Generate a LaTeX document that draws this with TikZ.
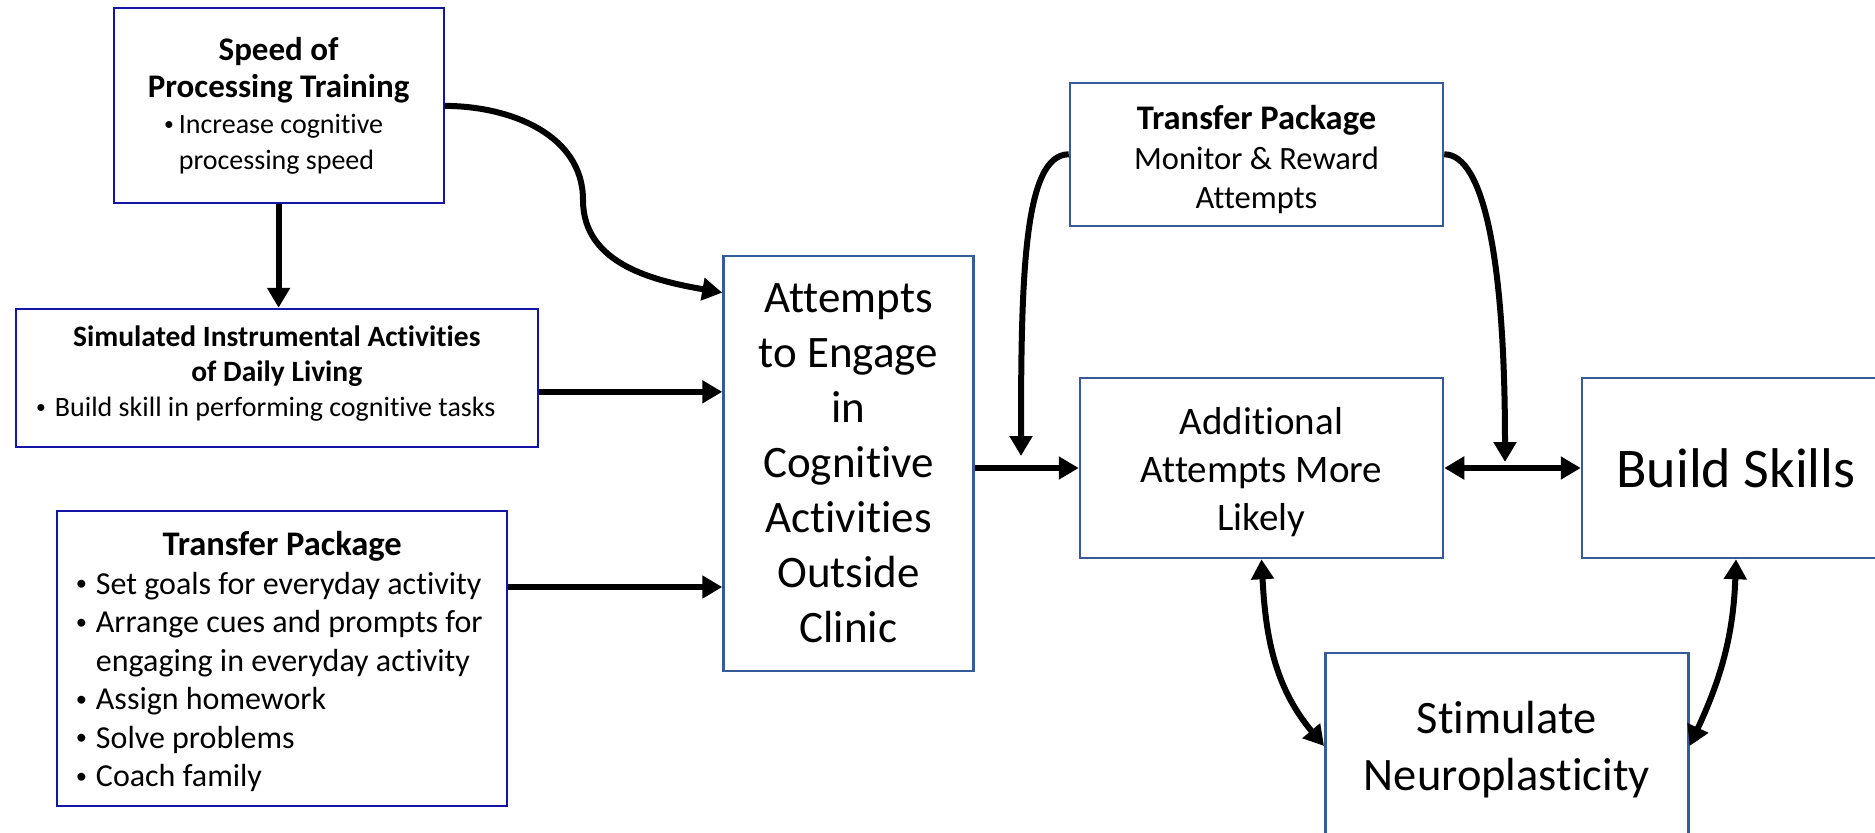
\documentclass[tikz,border=0pt]{standalone}
\usepackage{fontspec}
\setmainfont{Carlito}[Ligatures=NoCommon]
\usetikzlibrary{arrows.meta,calc}

\definecolor{boxnavy}{RGB}{20,20,165}
\definecolor{boxsteel}{RGB}{55,90,155}
\newcommand{\bul}{\raisebox{0.1em}{\scalebox{0.7}{•}}}

\begin{document}
\begin{tikzpicture}[x=1pt, y=1pt,
  lbox/.style={draw=boxnavy, line width=2pt, inner sep=4pt, align=flush center},
  rbox/.style={draw=boxsteel, line width=2.5pt, inner sep=4pt, align=flush center},
  link/.style={line width=6pt, -{Triangle[length=20pt,width=22pt]}},
  twolink/.style={line width=6pt, {Triangle[length=20pt,width=22pt]}-{Triangle[length=20pt,width=22pt]}}]
\path[use as bounding box, fill=white] (0,0) rectangle (1875,-833);

% Left column.
\node[lbox, minimum width=330pt, minimum height=195pt, text width=320pt] (speed) at (278.6,-105.9)
  {{\bfseries\fontsize{33}{36.5}\selectfont \rule{0pt}{29pt}Speed of\\ Processing Training\par}
   \fontsize{28}{36}\selectfont
   \begin{tabular}[t]{@{}l@{\hspace{5pt}}l@{}}
   \bul&Increase cognitive\\
    &processing speed
   \end{tabular}\hspace*{10pt}\par};
\node[lbox, minimum width=522pt, minimum height=138pt, text width=512pt] (sim) at (276.8,-377.8)
  {{\bfseries\fontsize{29.5}{35}\selectfont Simulated Instrumental Activities\\ of Daily Living\par}
   \fontsize{28}{35}\selectfont \bul\hspace{9pt}Build skill in performing cognitive tasks\rule[-14pt]{0pt}{0pt}\hspace*{22pt}\par};
\node[lbox, minimum width=450pt, minimum height=295pt, text width=440pt] (tleft) at (282.2,-658.3)
  {{\bfseries\fontsize{34.5}{39}\selectfont \rule{0pt}{37pt}Transfer Package\par}
   \fontsize{32}{38.5}\selectfont
   \begin{tabular}[t]{@{}l@{\hspace{9pt}}l@{}}
   \bul&Set goals for everyday activity\\
   \bul&Arrange cues and prompts for\\
    &engaging in everyday activity\\
   \bul&Assign homework\\
   \bul&Solve problems\\
   \bul&Coach family
   \end{tabular}\hspace*{6pt}\par};

% Middle and right.
\node[rbox, minimum width=250pt, minimum height=415pt, text width=240pt,
  font=\fontsize{45}{55}\selectfont] (att) at (848.5,-463.4)
  {Attempts\\ to Engage\\ in\\ Cognitive\\ Activities\\ Outside\\ Clinic};
\node[rbox, minimum width=373pt, minimum height=143pt, text width=363pt] (tright) at (1256.5,-154.3)
  {{\bfseries\fontsize{34.5}{39.5}\selectfont \rule{0pt}{35pt}Transfer Package\par}
   \fontsize{32.5}{39.5}\selectfont Monitor \& Reward\\ Attempts\par};
\node[rbox, minimum width=363pt, minimum height=180pt, text width=353pt,
  font=\fontsize{39}{48}\selectfont] (add) at (1261.5,-468)
  {\rule{0pt}{36pt}Additional\\ Attempts More\\ Likely};
\node[rbox, minimum width=308pt, minimum height=180pt, text width=298pt,
  font=\fontsize{56}{66}\selectfont] (skills) at (1736,-468) {Build Skills};
\node[rbox, minimum width=363pt, minimum height=186pt, text width=353pt,
  font=\fontsize{46.5}{57}\selectfont] (stim) at (1506.8,-746)
  {\rule{0pt}{40pt}Stimulate\\ Neuroplasticity};

% Connector points.
\coordinate (bend) at (583,-200);
\coordinate (attin) at ($(att.north west)+(0,-38)$);
\coordinate (simout) at ($(sim.south east)!0.4!(sim.north east)$);
\coordinate (tlout) at ($(tleft.north east)!0.26!(tleft.south east)$);
\coordinate (joinA) at (1021,-456);
\coordinate (joinB) at (1505,-462);

% Draw arrows.
\draw[link] (speed.south) -- (speed.south |- sim.north);
\draw[link] (speed.east) to[out=0,in=90] (bend) to[out=-90,in=170] (attin);
\draw[link] (simout) -- (simout -| att.west);
\draw[link] (tlout) -- (tlout -| att.west);
\draw[link] (att.east |- add.west) -- (add.west);
\draw[link] (tright.west) .. controls +(-45,0) and +(0,180) .. (joinA);
\draw[link] (tright.east) .. controls +(40,0) and +(0,200) .. (joinB);
\draw[twolink] (add.east) -- (skills.west);
\draw[twolink] (add.south) to[out=-87,in=130] (stim.west);
\draw[twolink] (skills.south) to[out=-92,in=65] (stim.east);

\end{tikzpicture}
\end{document}
